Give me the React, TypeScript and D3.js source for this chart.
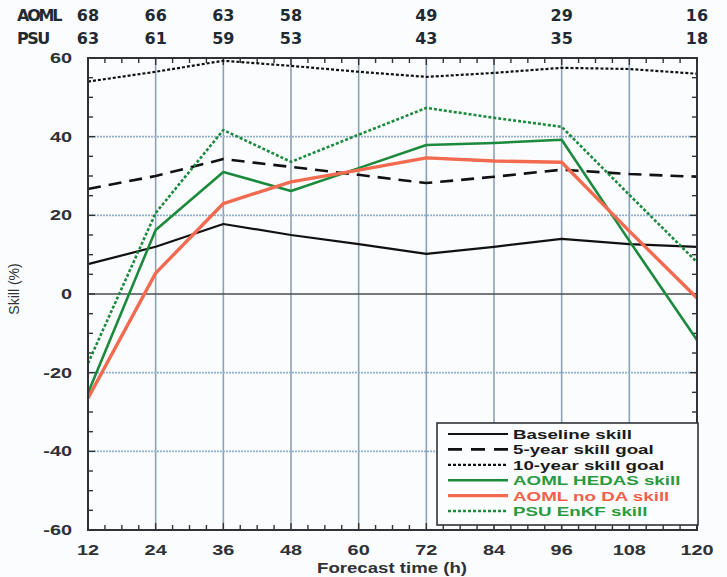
import React from 'react';
import * as d3 from 'd3';

// forecast lead times (h)
const hours = [12, 24, 36, 48, 60, 72, 84, 96, 108, 120];

// skill (%)
const baseline = [7.6, 12, 17.8, 15, 12.7, 10.2, 12, 14, 12.7, 12];
const goal5 = [26.7, 30, 34.3, 32.3, 30.3, 28.2, 29.8, 31.6, 30.5, 29.8];
const goal10 = [54, 56.5, 59.3, 58, 56.5, 55.2, 56.2, 57.5, 57.2, 56];
const hedas = [-25.2, 16.3, 31, 26.2, 32, 37.9, 38.4, 39.2, 13.5, -11.7];
const noDA = [-26.5, 5.3, 23, 28.5, 31.5, 34.6, 33.8, 33.5, 16, -1];
const enkf = [-17.6, 20.6, 41.7, 33.6, 40.5, 47.3, 44.8, 42.5, 25.2, 8.1];

// sample counts above the plot
const countHours = [12, 24, 36, 48, 72, 96, 120];
const aomlCounts = [68, 66, 63, 58, 49, 29, 16];
const psuCounts = [63, 61, 59, 53, 43, 35, 18];

const xTicks = [12, 24, 36, 48, 60, 72, 84, 96, 108, 120];
const yTicks = [-60, -40, -20, 0, 20, 40, 60];

const GREEN = '#1b8a3c';
const RED = '#f26a4f';

const series = [
  { name: 'Baseline skill', values: baseline, color: '#111', width: 2.2, dash: null, text: '#1a1a1a' },
  { name: '5-year skill goal', values: goal5, color: '#111', width: 2.6, dash: '13,8', text: '#1a1a1a' },
  { name: '10-year skill goal', values: goal10, color: '#111', width: 2.2, dash: '3,2', text: '#1a1a1a' },
  { name: 'AOML HEDAS skill', values: hedas, color: GREEN, width: 2.6, dash: null, text: '#2a9a3c' },
  { name: 'AOML no DA skill', values: noDA, color: RED, width: 3.4, dash: null, text: '#f2604c' },
  { name: 'PSU EnKF skill', values: enkf, color: GREEN, width: 2.6, dash: '3,2', text: '#2a9a3c' },
];

const App = () => {
  const left = 88, right = 697, top = 58, bottom = 530;
  const x = d3.scaleLinear().domain([12, 120]).range([left, right]);
  const y = d3.scaleLinear().domain([-60, 60]).range([bottom, top]);

  const line = d3.line<number>()
    .x((_, i) => x(hours[i]))
    .y((d) => y(d));

  const minorX = d3.range(12, 121, 3);
  const minorY = d3.range(-60, 61, 5);

  const lx = 437, ly = 423, lw = 261, lh = 102;

  return (
    <svg width={727} height={577} style={{ position: 'absolute', left: 0, top: 0, background: '#fbfcfe' }}>
      {/* sample counts */}
      <g fontFamily="DejaVu Sans" fontWeight="bold" fontSize={16} fill="#1f2a33">
        <text x={17} y={21} letterSpacing={-2.2}>AOML</text>
        <text x={17} y={44} letterSpacing={-1.5}>PSU</text>
        {countHours.map((h, i) => (
          <g key={h}>
            <text x={x(h)} y={21} textAnchor="middle">{aomlCounts[i]}</text>
            <text x={x(h)} y={44} textAnchor="middle">{psuCounts[i]}</text>
          </g>
        ))}
      </g>

      {/* grid */}
      {xTicks.slice(1, -1).map((t) => (
        <line key={'gx' + t} x1={x(t)} x2={x(t)} y1={top} y2={bottom} stroke="#8da2b6" strokeWidth={1.6} />
      ))}
      {yTicks.filter((t) => t !== 0 && Math.abs(t) !== 60).map((t) => (
        <line key={'gy' + t} x1={left} x2={right} y1={y(t)} y2={y(t)} stroke="#8fb0cc" strokeWidth={1.6} strokeDasharray="2,1" />
      ))}
      <line x1={left} x2={right} y1={y(0)} y2={y(0)} stroke="#4a4f55" strokeWidth={1.6} />

      {/* minor ticks */}
      {minorX.map((t) => {
        const len = t % 12 === 0 ? 7 : 5;
        return (
          <g key={'mx' + t} stroke="#333" strokeWidth={1.4}>
            <line x1={x(t)} x2={x(t)} y1={bottom} y2={bottom - len} />
            <line x1={x(t)} x2={x(t)} y1={top} y2={top + len} />
          </g>
        );
      })}
      {minorY.map((t) => {
        const len = t % 20 === 0 ? 7 : 5;
        return (
          <g key={'my' + t} stroke="#333" strokeWidth={1.4}>
            <line x1={left} x2={left + len} y1={y(t)} y2={y(t)} />
            <line x1={right} x2={right - len} y1={y(t)} y2={y(t)} />
          </g>
        );
      })}

      {/* series */}
      {series.map((s) => (
        <path key={s.name} d={line(s.values) || ''} fill="none" stroke={s.color} strokeWidth={s.width}
          strokeDasharray={s.dash || undefined} strokeLinejoin="round" />
      ))}

      {/* frame */}
      <rect x={left} y={top} width={right - left} height={bottom - top} fill="none" stroke="#2f3338" strokeWidth={2} />

      {/* axis labels */}
      <g fontFamily="Liberation Sans" fontWeight="bold" fontSize={14} fill="#2e3236">
        {xTicks.map((t) => (
          <text key={'xl' + t} transform={`translate(${x(t)},${555}) scale(1.42,1)`} textAnchor="middle">{t}</text>
        ))}
        {yTicks.map((t) => (
          <text key={'yl' + t} transform={`translate(${72},${y(t) + 5}) scale(1.42,1)`} textAnchor="end">{t}</text>
        ))}
        <text transform={`translate(${392},${573}) scale(1.33,1)`} textAnchor="middle">Forecast time (h)</text>
        <text transform={`translate(${19},${289}) rotate(-90)`} textAnchor="middle" fontWeight="normal" fontSize={14}>Skill (%)</text>
      </g>

      {/* legend */}
      <rect x={lx} y={ly} width={lw} height={lh} fill="#fcfdff" stroke="#2f3338" strokeWidth={1.6} />
      {series.map((s, i) => {
        const ry = 434 + i * 15.4;
        return (
          <g key={'lg' + s.name}>
            <line x1={448} x2={508} y1={ry} y2={ry} stroke={s.color} strokeWidth={s.width}
              strokeDasharray={s.dash === '13,8' ? '14,9' : s.dash || undefined} />
            <text transform={`translate(${513},${ry + 5}) scale(1.4,1)`} fontFamily="Liberation Sans"
              fontWeight="bold" fontSize={13.4} fill={s.text}>{s.name}</text>
          </g>
        );
      })}
    </svg>
  );
};

export default App;
